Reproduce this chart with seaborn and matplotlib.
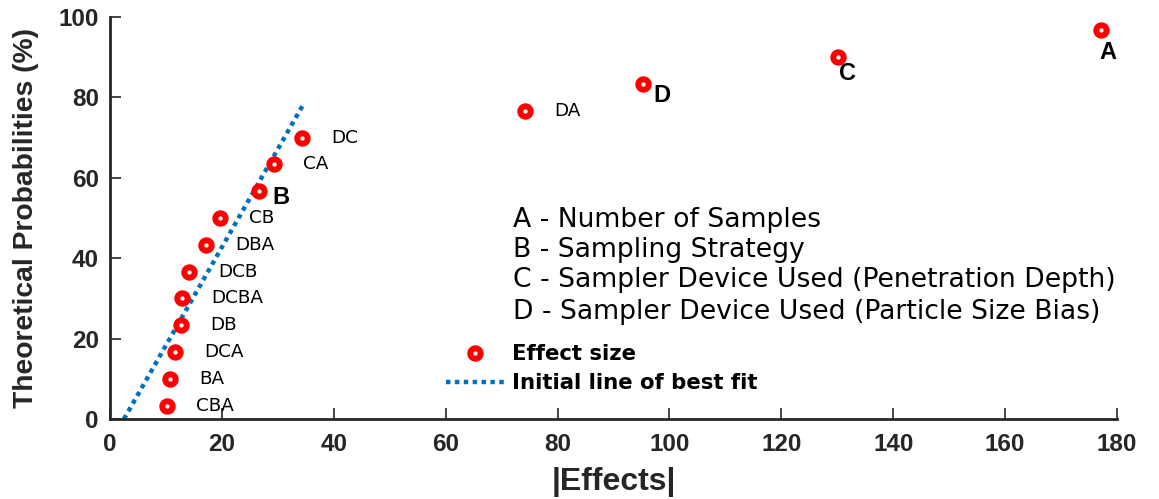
import matplotlib
matplotlib.use("Agg")
import matplotlib.pyplot as plt
import seaborn as sns
import pandas as pd
from matplotlib.lines import Line2D

# Half-normal plot of absolute effects
effect_names = ["CBA", "BA", "DCA", "DB", "DCBA", "DCB", "DBA", "CB",
                "B", "CA", "DC", "DA", "D", "C", "A"]
effect_values = [10.2, 10.7, 11.6, 12.7, 12.8, 14.1, 17.2, 19.7,
                 26.6, 29.3, 34.3, 74.2, 95.2, 130.2, 177.2]
probabilities = [3.33, 10.0, 16.67, 23.33, 30.0, 36.67, 43.33, 50.0,
                 56.67, 63.33, 70.0, 76.67, 83.33, 90.0, 96.67]
main_effects = ["A", "B", "C", "D"]

fit_x = [2.5, 34.7]
fit_y = [0.0, 78.6]

factor_notes = [
    "A - Number of Samples",
    "B - Sampling Strategy",
    "C - Sampler Device Used (Penetration Depth)",
    "D - Sampler Device Used (Particle Size Bias)",
]

sns.set_theme(style="white")
plt.rcParams["font.family"] = ["Liberation Sans", "DejaVu Sans"]

df = pd.DataFrame({"effect": effect_names, "abs_effect": effect_values,
                   "prob": probabilities})
fit_df = pd.DataFrame({"x": fit_x, "y": fit_y})

fig = plt.figure(figsize=(11.59, 4.99), dpi=100)
ax = fig.add_axes([0.0949, 0.1603, 0.8689, 0.8057])

blue = "#0072BD"
red = "#FF0000"
wide = ["DejaVu Sans"]

sns.lineplot(data=fit_df, x="x", y="y", ax=ax, color=blue, lw=3.2,
             linestyle=(0, (1, 1)), legend=False)
sns.scatterplot(data=df, x="abs_effect", y="prob", ax=ax, marker="o",
                s=56, facecolor="white", edgecolor=red, linewidth=4.3,
                legend=False, zorder=3)

offsets = {"A": (4.5, -16), "B": (9.5, -4.5), "C": (6.5, -11.5), "D": (7.5, -8)}
for name, xv, yv in zip(effect_names, effect_values, probabilities):
    if name in main_effects:
        dx, dy = offsets[name]
        ha = "left" if name in ("B", "D") else "center"
        ax.annotate(name, (xv, yv), xytext=(dx, dy), textcoords="offset points",
                    ha=ha, va="center", fontsize=17, fontweight="bold",
                    color="black")
    else:
        ax.annotate(name, (xv, yv), xytext=(21, 0), textcoords="offset points",
                    ha="left", va="center", fontsize=13.2, color="black",
                    family=wide)

note_y = [49.6, 42.1, 34.6, 26.7]
for txt, yv in zip(factor_notes, note_y):
    ax.text(72.0, yv, txt, ha="left", va="center", fontsize=19.2,
            color="black", family=wide)

ax.set_xlim(0, 180)
ax.set_ylim(0, 100)
ax.set_xticks(range(0, 181, 20))
ax.set_yticks(range(0, 101, 20))
ax.set_xlabel("|Effects|", fontsize=23, fontweight="bold", color="#262626",
              labelpad=8)
ax.set_ylabel("Theoretical Probabilities (%)", fontsize=20.3, fontweight="bold",
              color="#262626", labelpad=14)
for lab in ax.get_xticklabels() + ax.get_yticklabels():
    lab.set_fontweight("bold")
ax.tick_params(axis="both", which="major", direction="in", length=8,
               width=1.2, labelsize=17.5, colors="#262626", pad=8,
               bottom=True, left=True, top=False, right=False)
ax.tick_params(axis="x", pad=10)

for side in ("top", "right"):
    ax.spines[side].set_visible(False)
for side in ("left", "bottom"):
    ax.spines[side].set_color("#262626")
    ax.spines[side].set_linewidth(2.0)

handles = [
    Line2D([], [], marker="o", linestyle="none", markersize=7.5,
           markerfacecolor="white", markeredgecolor=red, markeredgewidth=4.3),
    Line2D([], [], color=blue, lw=3.2, linestyle=(0, (1, 1))),
]
leg = ax.legend(handles, ["Effect size", "Initial line of best fit"],
                loc="upper left", bbox_to_anchor=(0.325, 0.207),
                frameon=False, handlelength=2.75, handletextpad=0.35,
                labelspacing=0.42, borderaxespad=0, labelcolor="black",
                prop={"weight": "bold", "size": 15.3, "family": wide})

fig.savefig("out.png", dpi=100)
